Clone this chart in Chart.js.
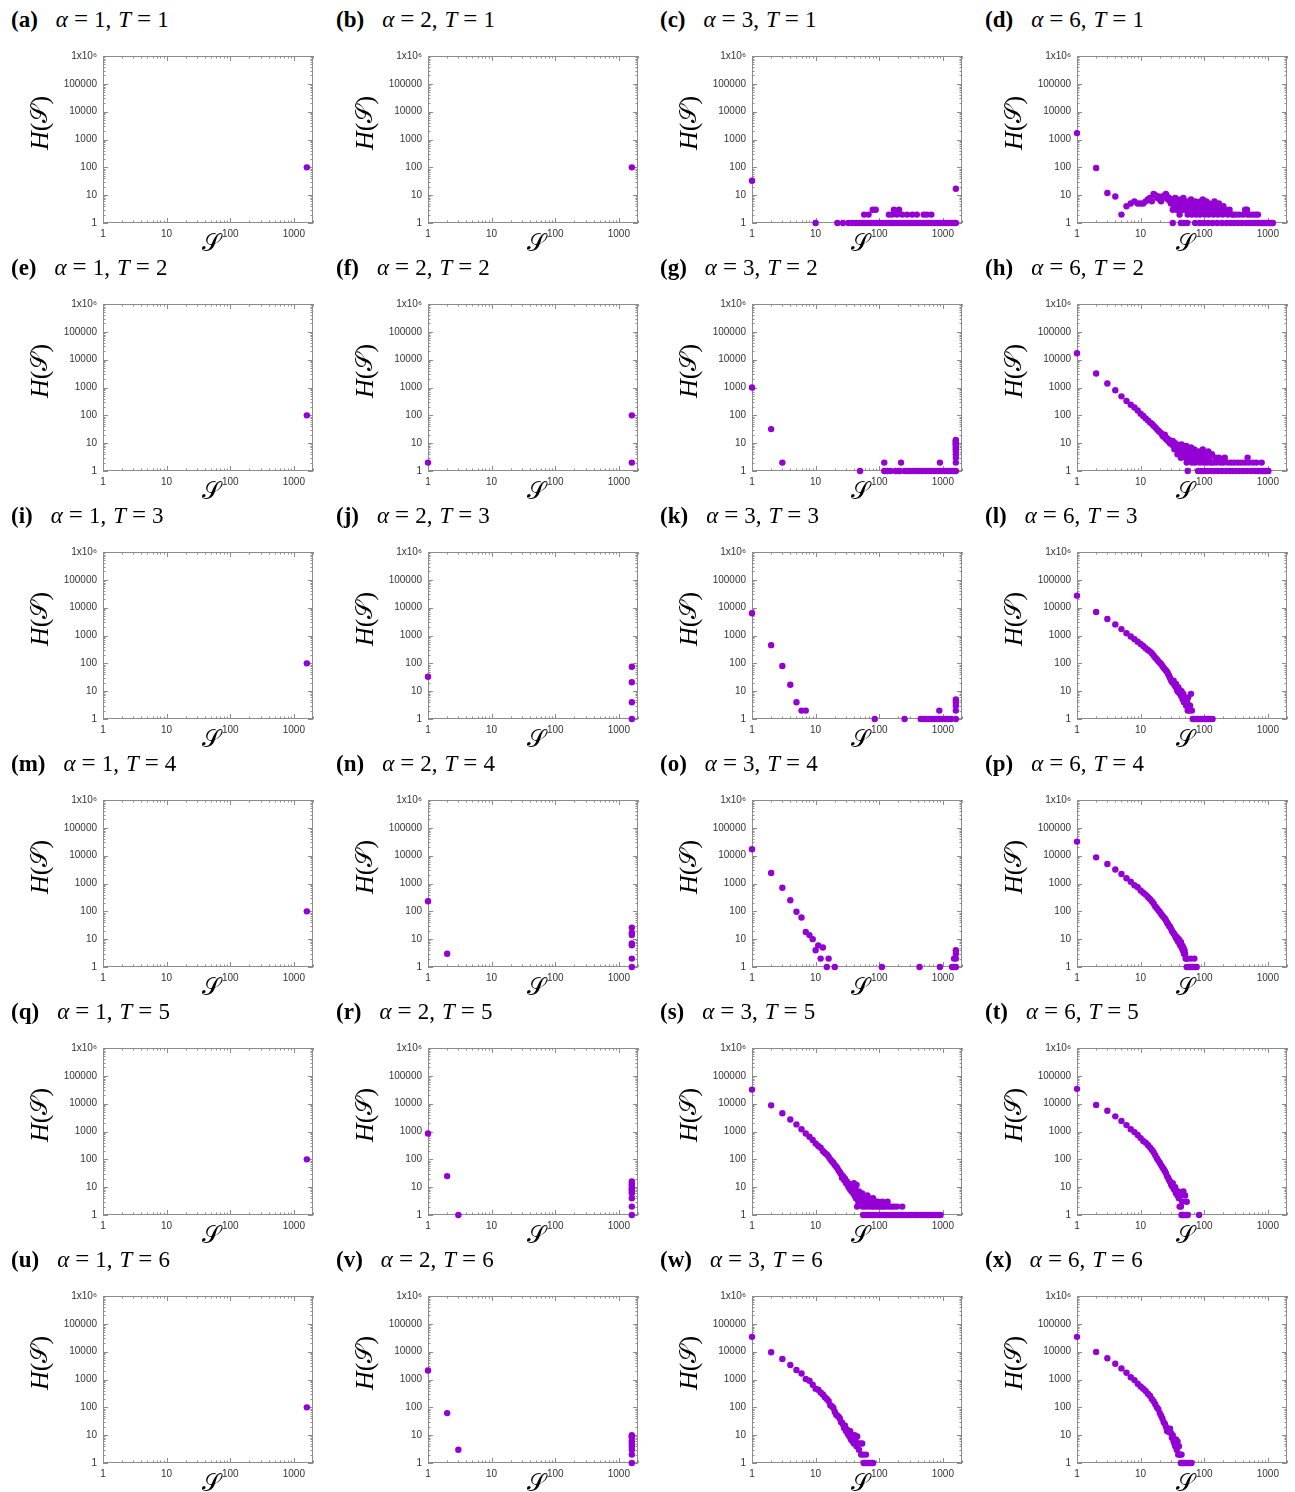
<!DOCTYPE html>
<html lang="en">
<head>
    <meta charset="UTF-8">
    <title>H(S) histograms</title>
    <script src="https://cdn.jsdelivr.net/npm/chart.js@4.4.1/dist/chart.umd.min.js"></script>
    <style>
        body { margin: 0; background: #fff; }
        #page { position: relative; width: 1295px; height: 1492px; overflow: hidden; }
        canvas { position: absolute; }
        .title { position: absolute; font-family: 'Liberation Serif', serif; font-size: 23px; line-height: 23px; color: #000; white-space: nowrap; }
        .title b { margin-right: 18px; }
        .title .eq { margin: 0 6px; font-size: 25px; }
        .title .cm { margin-right: 7px; }
    </style>
</head>
<body>
<div id="page"></div>
<script>
// tick values and labels
const xTickValues = [1, 10, 100, 1000];
const xTickLabels = ['1', '10', '100', '1000'];
const yTickValues = [1, 10, 100, 1000, 10000, 100000, 1000000];
const yTickLabels = ['1', '10', '100', '1000', '10000', '100000', '1x10\u2076'];

const letters = ['a','b','c','d','e','f','g','h','i','j','k','l','m','n','o','p','q','r','s','t','u','v','w','x'];
const alphas = [1, 2, 3, 6];
const temps = [1, 2, 3, 4, 5, 6];

// [S, H(S)]
const pA = [[1600,100]];
const pB = [[1600,100]];
const pC = [[1,33],[10,1],[22,1],[27,1],[33,1],[38,1],[43,1],[48,1],[54,1],[58,2],[60,1],[67,1],[68,2],[75,1],[79,3],[83,1],[88,3],[92,1],[102,1],[113,1],[125,1],[140,1],[142,2],[155,1],[160,2],[170,3],[172,1],[190,1],[190,2],[205,3],[210,1],[230,2],[235,1],[260,1],[275,2],[290,1],[320,1],[330,2],[355,1],[390,2],[395,1],[440,1],[490,1],[500,2],[545,1],[560,2],[600,1],[660,2],[670,1],[740,1],[820,1],[910,1],[1010,1],[1120,1],[1240,1],[1380,1],[1500,1],[1600,1],[1600,17]];
const pD = [[1,1700],[2,95],[3,12],[4,9],[5,2],[6,4],[7,5],[8,6],[9,5],[10,5],[11,5],[12,6],[13,7],[14,8],[15,6],[16,11],[17,10],[18,8],[19,9],[20,7],[21,6],[22,9],[23,8],[24,10],[25,11],[26,9],[27,7],[28,8],[29,6],[30,5],[31,7],[32,3],[32,1],[33,6],[34,4],[35,8],[36,5],[37,3],[38,7],[39,4],[40,6],[41,2],[42,5],[43,1],[44,7],[45,3],[46,4],[47,8],[48,1],[49,5],[50,3],[52,6],[54,1],[55,2],[56,4],[58,5],[60,3],[62,7],[64,2],[66,4],[68,5],[70,3],[72,1],[73,6],[75,2],[78,4],[80,5],[82,3],[85,1],[86,2],[88,6],[90,4],[93,3],[95,7],[98,1],[100,5],[102,2],[105,3],[108,6],[112,4],[115,1],[118,2],[120,5],[125,3],[130,4],[135,1],[140,2],[145,6],[150,3],[155,4],[160,1],[165,2],[170,5],[180,3],[190,1],[195,2],[200,4],[215,3],[225,1],[235,2],[250,3],[260,1],[275,2],[290,2],[300,1],[320,2],[340,1],[360,2],[385,1],[410,2],[440,3],[450,1],[470,3],[480,2],[500,1],[530,2],[560,1],[590,2],[620,1],[650,2],[680,1],[700,2],[730,1],[780,1],[830,1],[880,1],[940,1],[1000,1],[1060,1],[1130,1],[1200,1]];

const pE = [[1600,100]];
const pF = [[1,2],[1600,100],[1600,2]];
const pG = [[1,1000],[2,32],[3,2],[50,1],[120,2],[120,1],[135,1],[150,1],[180,1],[200,1],[210,1],[220,2],[250,1],[280,1],[310,1],[350,1],[390,1],[430,1],[480,1],[530,1],[590,1],[650,1],[720,1],[800,1],[880,1],[900,2],[970,1],[1070,1],[1180,1],[1300,1],[1450,1],[1600,1],[1600,2],[1600,3],[1600,4],[1600,5],[1600,6],[1600,7],[1600,8],[1600,9],[1600,10],[1600,11],[1600,12],[1600,13]];
const pH = [[1,17000],[2,3200],[3,1400],[4,800],[5,480],[6,330],[7,240],[8,190],[9,150],[10,115],[11,95],[12,78],[13,66],[14,56],[15,50],[16,42],[17,37],[18,32],[19,28],[20,25],[21,23],[22,19],[23,17],[24,20],[25,14],[26,15],[27,12],[28,13],[29,10],[30,11],[31,9],[32,12],[33,8],[34,6],[35,10],[36,7],[37,9],[38,4],[39,8],[40,6],[41,7],[42,5],[43,3],[44,9],[45,4],[46,6],[47,5],[48,7],[49,4],[51,3],[52,8],[53,2],[54,5],[55,1],[56,6],[58,3],[60,4],[62,7],[64,2],[66,5],[68,3],[70,6],[72,2],[75,4],[78,3],[80,1],[82,5],[85,2],[88,4],[90,1],[92,3],[95,6],[98,2],[100,1],[102,4],[106,3],[110,2],[112,1],[116,5],[120,3],[125,2],[128,1],[132,4],[138,2],[145,1],[150,3],[155,2],[165,1],[170,3],[180,2],[190,1],[200,2],[210,3],[220,1],[235,2],[250,1],[265,2],[280,1],[300,2],[320,1],[340,2],[360,1],[385,2],[410,1],[440,2],[470,1],[480,3],[500,2],[540,1],[580,2],[620,1],[660,2],[700,1],[760,1],[800,2],[820,1],[880,1],[950,1],[1020,1]];

const pI = [[1600,100]];
const pJ = [[1,33],[1600,75],[1600,21],[1600,4],[1600,1]];
const pK = [[1,6300],[2,450],[3,80],[4,17],[5,4],[6,2],[7,2],[85,1],[250,1],[450,1],[500,1],[550,1],[610,1],[670,1],[740,1],[810,1],[880,2],[890,1],[980,1],[1080,1],[1200,1],[1350,1],[1600,1],[1600,2],[1600,3],[1600,4],[1600,5]];
const pL = [[1,27000],[2,7000],[3,3900],[4,2500],[5,1700],[6,1200],[7,920],[8,740],[9,600],[10,500],[11,420],[12,350],[13,300],[14,270],[15,230],[16,190],[17,160],[18,140],[19,120],[20,105],[21,95],[22,80],[23,70],[24,62],[25,55],[26,50],[27,42],[28,36],[29,30],[30,25],[31,22],[32,20],[33,24],[34,17],[35,15],[36,18],[37,12],[38,10],[39,14],[40,9],[41,11],[42,8],[43,7],[44,10],[45,6],[46,5],[47,8],[48,4],[49,6],[50,5],[52,3],[54,4],[55,2],[56,6],[58,2],[60,3],[62,8],[64,2],[66,1],[70,1],[75,1],[80,1],[86,1],[92,1],[100,1],[108,1],[116,1],[125,1],[135,1]];

const pM = [[1600,100]];
const pN = [[1,230],[2,3],[1600,26],[1600,17],[1600,14],[1600,7],[1600,6],[1600,2],[1600,1]];
const pO = [[1,17000],[2,2400],[3,700],[4,250],[5,97],[6,60],[7,18],[8,14],[9,10],[10,4],[11,6],[12,2],[13,5],[15,1],[16,2],[20,1],[110,1],[430,1],[900,1],[1400,1],[1500,1],[1500,2],[1600,1],[1600,2],[1600,3],[1600,4]];
const pP = [[1,32000],[2,8700],[3,5000],[4,3200],[5,2200],[6,1550],[7,1150],[8,870],[9,740],[10,560],[11,470],[12,400],[13,330],[14,280],[15,230],[16,190],[17,150],[18,130],[19,110],[20,95],[21,80],[22,70],[23,62],[24,55],[25,48],[26,40],[27,35],[28,30],[29,28],[30,24],[31,20],[32,18],[33,16],[34,15],[35,13],[36,11],[37,12],[38,9],[39,8],[40,10],[41,7],[42,6],[43,8],[44,5],[45,6],[46,4],[47,5],[48,3],[49,4],[50,3],[51,2],[52,2],[53,1],[55,2],[57,1],[60,1],[62,2],[64,1],[67,1],[70,2],[72,1],[76,1]];

const pQ = [[1600,100]];
const pR = [[1,850],[2,25],[3,1],[1600,16],[1600,13],[1600,11],[1600,9],[1600,8],[1600,7],[1600,6],[1600,4],[1600,2],[1600,1]];
const pS = [[1,32000],[2,8700],[3,4500],[4,2700],[5,1800],[6,1200],[7,850],[8,650],[9,500],[10,370],[11,300],[12,260],[13,200],[14,170],[15,150],[16,125],[17,100],[18,85],[19,75],[20,62],[21,55],[22,48],[23,40],[24,35],[25,30],[26,22],[27,25],[28,18],[29,20],[30,14],[31,16],[32,12],[33,10],[34,13],[35,8],[36,11],[37,7],[38,9],[39,6],[40,14],[41,5],[42,8],[43,4],[44,12],[45,2],[46,6],[47,3],[48,7],[49,5],[50,4],[52,3],[54,6],[55,2],[56,1],[58,4],[60,2],[61,1],[63,3],[65,5],[67,1],[68,2],[70,4],[72,1],[74,3],[76,2],[78,1],[80,4],[82,2],[84,1],[86,3],[90,2],[92,1],[95,3],[98,2],[100,1],[105,2],[108,1],[112,3],[115,2],[120,1],[125,2],[130,1],[135,3],[140,2],[145,1],[155,2],[160,1],[170,2],[175,1],[190,2],[195,1],[210,1],[230,2],[235,1],[260,1],[290,1],[320,1],[360,1],[400,1],[440,1],[490,1],[540,1],[600,1],[660,1],[720,1],[800,1],[870,1],[920,1]];
const pT = [[1,34000],[2,9000],[3,5600],[4,3500],[5,2400],[6,1700],[7,1200],[8,950],[9,750],[10,580],[11,460],[12,400],[13,330],[14,270],[15,220],[16,180],[17,140],[18,110],[19,90],[20,75],[21,62],[22,52],[23,45],[24,38],[25,32],[26,25],[27,22],[28,18],[29,16],[30,13],[31,11],[32,14],[33,9],[34,8],[35,10],[36,6],[37,7],[38,5],[39,7],[40,4],[41,2],[42,5],[43,2],[44,1],[45,3],[46,1],[47,7],[48,1],[50,5],[52,1],[53,3],[55,1],[83,1]];

const pU = [[1600,100]];
const pV = [[1,2100],[2,62],[3,3],[1600,10],[1600,9],[1600,8],[1600,6],[1600,5],[1600,4],[1600,3],[1600,2],[1600,1]];
const pW = [[1,34000],[2,9500],[3,5500],[4,3300],[5,2200],[6,1650],[7,1050],[8,900],[9,650],[10,470],[11,430],[12,340],[13,290],[14,230],[15,200],[16,170],[17,120],[18,110],[19,95],[20,70],[21,55],[22,50],[23,46],[24,40],[25,30],[26,28],[27,24],[28,18],[29,22],[30,14],[31,16],[32,11],[33,12],[34,9],[35,14],[36,7],[37,10],[38,6],[39,8],[40,5],[41,10],[42,7],[44,4],[45,9],[46,5],[48,3],[50,5],[52,2],[54,5],[56,2],[57,1],[60,1],[62,2],[64,1],[68,1],[72,1],[76,1],[80,1]];
const pX = [[1,34000],[2,9800],[3,5800],[4,3700],[5,2500],[6,1750],[7,1200],[8,950],[9,700],[10,560],[11,470],[12,390],[13,310],[14,260],[15,200],[16,165],[17,130],[18,100],[19,85],[20,62],[21,50],[22,40],[23,30],[24,26],[25,20],[26,14],[27,16],[28,13],[29,17],[30,12],[31,8],[32,10],[33,6],[34,5],[35,4],[36,7],[37,3],[38,6],[39,2],[40,4],[41,2],[42,2],[43,1],[44,2],[45,1],[47,1],[49,1],[52,1],[55,1],[59,1],[63,1]];

const panels = [pA,pB,pC,pD, pE,pF,pG,pH, pI,pJ,pK,pL, pM,pN,pO,pP, pQ,pR,pS,pT, pU,pV,pW,pX];

// layout of the plot frames on the page
const colLeft = [103, 427.5, 752, 1077];
const rowTop = 53.5, rowStep = 248.1;
const plotW = 210, plotH = 169;
const padL = 95, padT = 10, cw = 322, ch = 224;

const PURPLE = '#9400d3';

function labelFor(v, values, labels) {
    for (let i = 0; i < values.length; i++) {
        if (Math.abs(Math.log10(v) - Math.log10(values[i])) < 1e-6) return labels[i];
    }
    return '';
}

function isDecade(v) {
    const l = Math.log10(v);
    return Math.abs(l - Math.round(l)) < 1e-6;
}

// keep only 1..9 x 10^n ticks (drop chart.js' 15, 150 ...)
function intTicks(scale) {
    scale.ticks = scale.ticks.filter(t => {
        const m = t.value / Math.pow(10, Math.floor(Math.log10(t.value) + 1e-9));
        return Math.abs(m - Math.round(m)) < 1e-6 && t.value <= scale.max;
    });
}

// gnuplot-like frame with inward ticks on all four sides, and the axis titles
const framePlugin = {
    id: 'frame',
    beforeDatasetsDraw(chart) {
        const {ctx, chartArea: a, scales: {x, y}} = chart;
        ctx.save();
        ctx.strokeStyle = '#8c8c8c';
        ctx.lineWidth = 1;
        ctx.strokeRect(a.left + 0.5, a.top + 0.5, a.right - a.left - 1, a.bottom - a.top - 1);
        ctx.beginPath();
        x.ticks.forEach(t => {
            const px = Math.round(x.getPixelForValue(t.value)) + 0.5;
            const len = isDecade(t.value) ? 5 : 2.5;
            ctx.moveTo(px, a.bottom); ctx.lineTo(px, a.bottom - len);
            ctx.moveTo(px, a.top); ctx.lineTo(px, a.top + len);
        });
        y.ticks.forEach(t => {
            const py = Math.round(y.getPixelForValue(t.value)) + 0.5;
            const len = isDecade(t.value) ? 5 : 2.5;
            ctx.moveTo(a.left, py); ctx.lineTo(a.left + len, py);
            ctx.moveTo(a.right, py); ctx.lineTo(a.right - len, py);
        });
        ctx.stroke();
        ctx.restore();
    },
    afterDraw(chart) {
        const {ctx, chartArea: a} = chart;
        ctx.save();
        ctx.fillStyle = '#000';
        ctx.textBaseline = 'middle';
        // y title H(S), rotated
        ctx.translate(a.left - 62, a.top + 67);
        ctx.rotate(-Math.PI / 2);
        const parts = [['H', 'italic 26px "Liberation Serif"'], ['(', '26px "Liberation Serif"'],
                       ['\u{1D4AE}', '23px "DejaVu Sans"'], [')', '26px "Liberation Serif"']];
        let total = 0;
        parts.forEach(p => { ctx.font = p[1]; total += ctx.measureText(p[0]).width; });
        let cx = -total / 2;
        ctx.textAlign = 'left';
        parts.forEach(p => { ctx.font = p[1]; ctx.fillText(p[0], cx, 0); cx += ctx.measureText(p[0]).width; });
        ctx.restore();
        // x title S
        ctx.save();
        ctx.fillStyle = '#000';
        ctx.textAlign = 'center';
        ctx.textBaseline = 'middle';
        ctx.font = '24px "DejaVu Sans"';
        ctx.fillText('\u{1D4AE}', (a.left + a.right) / 2 + 3, a.bottom + 22);
        ctx.restore();
    }
};

const page = document.getElementById('page');

panels.forEach((pts, i) => {
    const r = Math.floor(i / 4), c = i % 4;
    const left = colLeft[c], top = rowTop + r * rowStep;

    const title = document.createElement('div');
    title.className = 'title';
    title.style.left = Math.round(left - 92) + 'px';
    title.style.top = Math.round(top - 47) + 'px';
    title.innerHTML = '<b>(' + letters[i] + ')</b><i>\u03b1</i><span class="eq">=</span><span class="cm">' +
        alphas[c] + ',</span><i>T</i><span class="eq">=</span>' + temps[r];
    page.appendChild(title);

    const cv = document.createElement('canvas');
    cv.width = cw; cv.height = ch;
    cv.style.left = Math.round(left - padL) + 'px';
    cv.style.top = Math.round(top - padT) + 'px';
    page.appendChild(cv);

    new Chart(cv, {
        type: 'scatter',
        data: {
            datasets: [{
                data: pts.map(p => ({x: p[0], y: p[1]})),
                backgroundColor: PURPLE,
                borderColor: PURPLE,
                borderWidth: 0,
                pointRadius: 3.2,
                clip: false
            }]
        },
        options: {
            responsive: false,
            animation: false,
            events: [],
            layout: {padding: {left: 0, top: padT, right: cw - padL - plotW, bottom: 0}},
            plugins: {legend: {display: false}, tooltip: {enabled: false}},
            scales: {
                x: {
                    type: 'logarithmic', min: 1, max: 2000,
                    afterFit(s) { s.height = ch - padT - plotH; },
                    afterBuildTicks: intTicks,
                    grid: {display: false, drawTicks: false},
                    border: {display: false},
                    ticks: {
                        autoSkip: false, maxRotation: 0, padding: 5, color: '#333',
                        font: {family: 'Liberation Sans', size: 10},
                        callback: v => labelFor(v, xTickValues, xTickLabels)
                    }
                },
                y: {
                    type: 'logarithmic', min: 1, max: 1e6,
                    afterFit(s) { s.width = padL; },
                    afterBuildTicks: intTicks,
                    grid: {display: false, drawTicks: false},
                    border: {display: false},
                    ticks: {
                        autoSkip: false, padding: 6, color: '#333',
                        font: {family: 'Liberation Sans', size: 10},
                        callback: v => labelFor(v, yTickValues, yTickLabels)
                    }
                }
            }
        },
        plugins: [framePlugin]
    });
});
</script>
</body>
</html>
